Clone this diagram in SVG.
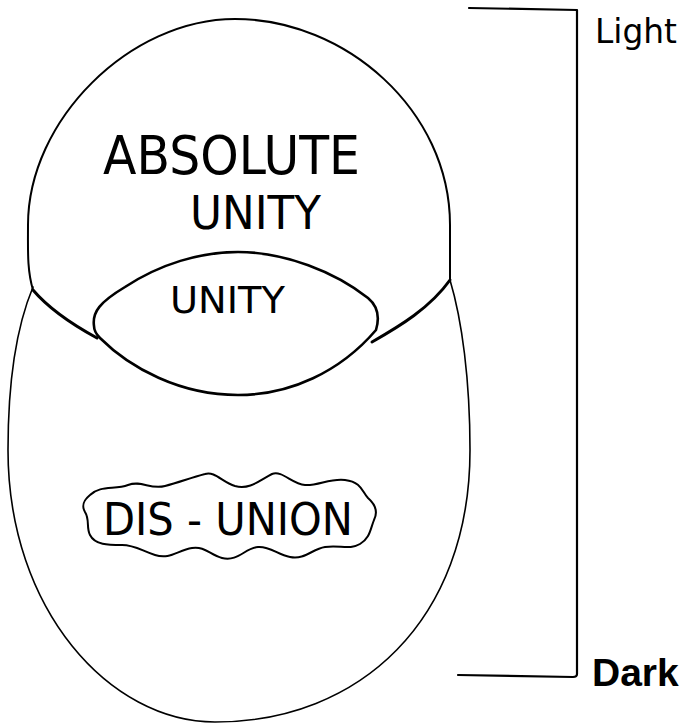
<svg xmlns="http://www.w3.org/2000/svg" width="683" height="726" viewBox="0 0 683 726">
<style>
.line{fill:none;stroke:#000;stroke-linecap:round;stroke-linejoin:round}
.lbl{font-family:"DejaVu Sans","Liberation Sans",sans-serif;fill:#000}
.dark{font-family:"Liberation Sans",Arial,sans-serif;font-weight:bold;fill:#000}
</style>
<rect width="683" height="726" fill="#fff"/>
<g id="dis-union-region">
<path class="line" stroke-width="1.6" d="M33,287 C15,330 8,390 8,450 C8,610 110,722 215,722 C360,722 470,620 470,450 C470,380 462,320 450,280"/>
</g>
<g id="absolute-unity">
<path class="line" stroke-width="2" d="M33,290 C27,270 28,250 28,225 C28,120 130,19 235,19 C345,19 450,110 450,225 L450,280"/>
<path class="line" stroke-width="3" d="M33,290 C50,310 75,326 97,338"/>
<path class="line" stroke-width="3" d="M450,280 C430,308 400,326 372,342"/>
<text class="lbl" x="103" y="174" font-size="54" textLength="257" lengthAdjust="spacingAndGlyphs">ABSOLUTE</text>
<text class="lbl" x="190" y="229" font-size="46" textLength="131" lengthAdjust="spacingAndGlyphs">UNITY</text>
</g>
<g id="unity">
<path class="line" stroke-width="2.6" d="M94,326 C92,312 100,302 125,287 C160,264 200,252 238,252 C285,252 335,272 368,298 C380,308 379,320 376,330 C340,372 290,395 238,395 C180,395 130,368 100,338 C95,333 94,330 94,326 Z"/>
<text class="lbl" x="170" y="313" font-size="37" textLength="115" lengthAdjust="spacingAndGlyphs">UNITY</text>
</g>
<g id="dis-union">
<path class="line" stroke-width="2" d="M90,495 C100,485 115,490 128,485 C142,480 150,490 165,486 C180,482 190,478 205,474 C215,471 222,482 235,486 C250,490 260,480 272,474 C282,470 292,484 305,485 C318,486 330,478 345,480 C362,482 362,492 368,498 C376,505 378,512 374,520 C370,530 370,538 360,544 C350,550 340,545 325,547 C312,549 305,560 290,557 C278,555 270,546 258,547 C245,548 238,562 222,558 C210,555 205,546 192,548 C178,550 170,560 155,555 C142,551 135,545 122,545 C108,545 95,545 90,535 C86,527 90,520 85,512 C81,505 84,500 90,495 Z"/>
<text class="lbl" x="103" y="535" font-size="44" textLength="250" lengthAdjust="spacingAndGlyphs">DIS - UNION</text>
</g>
<g id="scale">
<path class="line" stroke-width="2.2" d="M469,8 L577,10 L577,674 Q577,677 573,677 L458,675"/>
<text class="lbl" x="595" y="43" font-size="34" textLength="82" lengthAdjust="spacingAndGlyphs">Light</text>
<text class="dark" x="592" y="686" font-size="39">Dark</text>
</g>
</svg>
